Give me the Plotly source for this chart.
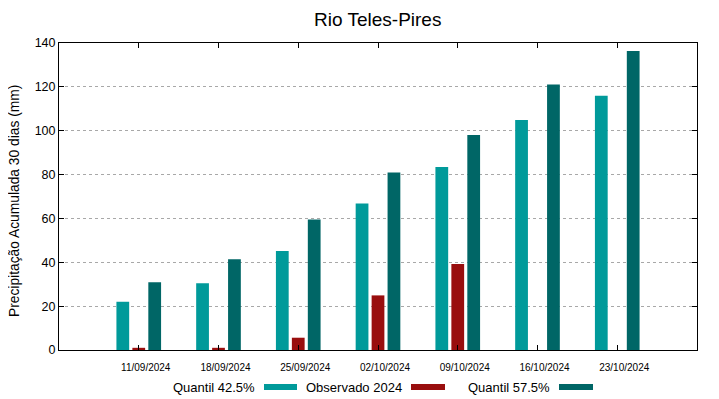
import plotly.graph_objects as go

categories = ["11/09/2024", "18/09/2024", "25/09/2024", "02/10/2024",
              "09/10/2024", "16/10/2024", "23/10/2024"]
q425 = [22.0, 30.4, 45.1, 66.8, 83.5, 104.9, 115.9]
obs2024 = [1.0, 1.0, 5.6, 24.9, 39.2, None, None]
q575 = [30.9, 41.4, 59.5, 81.0, 98.0, 121.1, 136.3]
series_names = ["Quantil 42.5%", "Observado 2024", "Quantil 57.5%"]
colors = ["#009a9a", "#990e0e", "#006666"]
y_ticks = [0, 20, 40, 60, 80, 100, 120, 140]

# page is offset by the default 8px body margin
OFF = 8
W, H = 719 - OFF, 399 - OFF
# plot area in page pixels: left 59, right 697, top 43, bottom 350
PL, PR, PT, PB = 59, 697, 43, 350
L, R, T, B = PL - OFF, 719 - PR, PT - OFF, 399 - PB
pw, ph = PR - PL, PB - PT


def xp(px):
    return (px - PL) / pw


def yp(py):
    return (PB - py) / ph


fig = go.Figure()
for name, vals, col in zip(series_names, [q425, obs2024, q575], colors):
    fig.add_trace(go.Bar(x=categories, y=vals, name=name, marker_color=col,
                         marker_line_width=0, showlegend=False))

font = "Liberation Sans, Arial, sans-serif"
fig.update_layout(
    width=W, height=H,
    margin=dict(l=L, r=R, t=T, b=B),
    paper_bgcolor="white", plot_bgcolor="white",
    barmode="group", bargap=0.4, bargroupgap=0.2,
    font=dict(family=font, color="black"),
)
fig.add_annotation(text="Rio Teles-Pires", xref="paper", yref="paper",
                   x=xp(377), y=yp(OFF + 0.5), xanchor="center", yanchor="top",
                   borderpad=0, showarrow=False, font=dict(size=19, color="black"))
fig.update_xaxes(
    type="category", range=[-1, 7], showgrid=False,
    showline=True, linecolor="black", linewidth=1, mirror="allticks",
    ticks="inside", ticklen=5, tickcolor="black",
    tickfont=dict(size=10, color="black"), ticklabelshift=7,
    ticklabelstandoff=8,
)
fig.update_yaxes(
    range=[0, 140], tickvals=y_ticks, showgrid=True, gridcolor="#a8a8a8",
    griddash="dot", gridwidth=1, zeroline=False,
    showline=True, linecolor="black", linewidth=1, mirror="allticks",
    ticks="inside", ticklen=5, tickcolor="black",
    tickfont=dict(size=12.5, color="black"),
)
fig.add_annotation(text="Precipitação Acumulada 30 dias (mm)", textangle=-90,
                   xref="paper", yref="paper", x=xp(14), y=yp(201),
                   xanchor="center", yanchor="middle", showarrow=False,
                   font=dict(size=13.8, color="black"))

# legend (text then sample to the right)
leg_y = yp(387)
text_right = [257, 404, 552]
samp = [(264, 297), (411, 445), (559, 593)]
for name, col, tr, (s0, s1) in zip(series_names, colors, text_right, samp):
    fig.add_annotation(text=name, xref="paper", yref="paper",
                       x=xp(tr), y=leg_y, xanchor="right", yanchor="middle",
                       showarrow=False, font=dict(size=13, color="black"))
    fig.add_shape(type="line", xref="paper", yref="paper",
                  x0=xp(s0), x1=xp(s1), y0=leg_y, y1=leg_y,
                  line=dict(color=col, width=6))

fig.write_html("out.html")
